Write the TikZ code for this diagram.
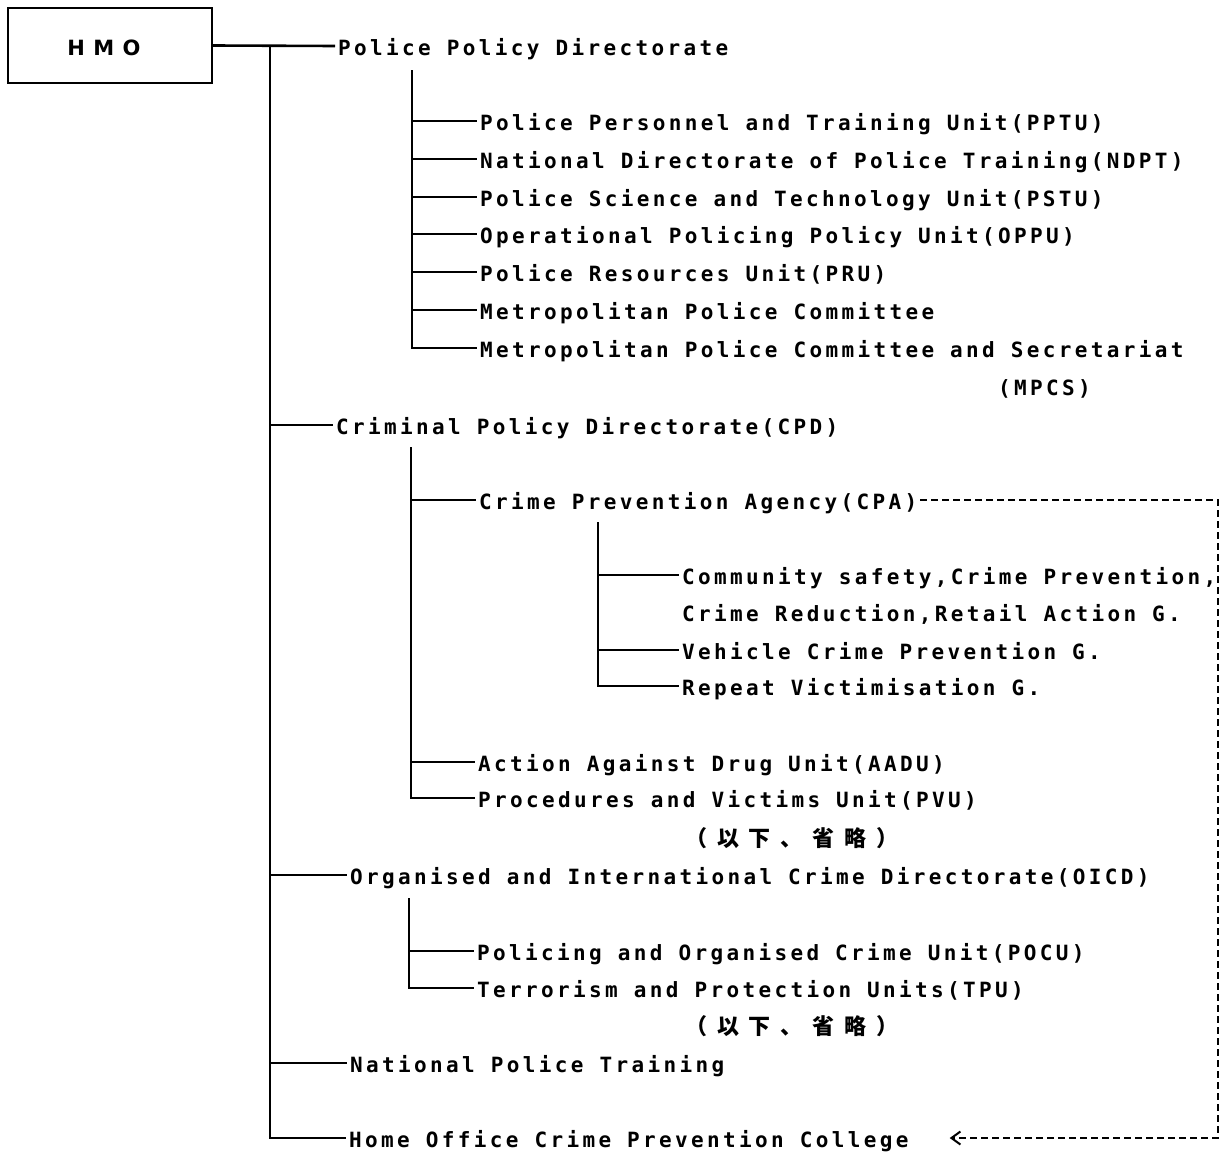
\documentclass[tikz,border=0pt]{standalone}
\usepackage{fontspec}
\usetikzlibrary{arrows.meta}
\newfontfamily\monof[LetterSpace=16.0]{DejaVu Sans Mono}
\newfontfamily\hmof[LetterSpace=40]{DejaVu Sans}
\newfontfamily\jpf[LetterSpace=45]{Noto Sans CJK JP}
\begin{document}
\begin{tikzpicture}[x=1pt,y=-1pt,
  conn/.style={line width=2.6pt},
  lbl/.style={anchor=west, inner xsep=3pt, inner ysep=0pt, text height=18pt, text depth=0pt,
    font=\monof\bfseries\fontsize{21}{25}\selectfont},
  jnote/.style={anchor=west, inner sep=0pt, text height=18pt, text depth=0pt,
    font=\jpf\bfseries\fontsize{22}{26}\selectfont},
  boxn/.style={draw, line width=2.4pt, minimum width=204pt, minimum height=75pt, inner sep=0pt},
  dashconn/.style={line width=2pt, dash pattern=on 7pt off 4pt, -{Straight Barb[length=9pt,width=13pt,line width=2pt]}}]
\useasboundingbox (0,0) rectangle (1220,1151);

% HMO box
\node[boxn] (hmo) at (110,45.5) {};
\node[font=\hmof\bfseries\fontsize{21}{25}\selectfont, inner sep=0pt] (hmot) at (104,48) {HMO};

% level 1
\node[lbl] (ppd)   at (335,46)   {Police Policy Directorate};
\node[lbl] (cpd)   at (333,425)  {Criminal Policy Directorate(CPD)};
\node[lbl] (oicd)  at (347,875)  {Organised and International Crime Directorate(OICD)};
\node[lbl] (npt)   at (347,1063) {National Police Training};
\node[lbl] (hocpc) at (346,1138) {Home Office Crime Prevention College};

% PPD children
\node[lbl] (pptu) at (477,121) {Police Personnel and Training Unit(PPTU)};
\node[lbl] (ndpt) at (477,159) {National Directorate of Police Training(NDPT)};
\node[lbl] (pstu) at (477,197) {Police Science and Technology Unit(PSTU)};
\node[lbl] (oppu) at (477,234) {Operational Policing Policy Unit(OPPU)};
\node[lbl] (pru)  at (477,272) {Police Resources Unit(PRU)};
\node[lbl] (mpc)  at (477,310) {Metropolitan Police Committee};
\node[lbl] (mpcs) at (477,348) {Metropolitan Police Committee and Secretariat};
\node[lbl] (mpcsb) at (995,386) {(MPCS)};

% CPD children
\node[lbl] (cpa)  at (476,500) {Crime Prevention Agency(CPA)};
\node[lbl] (csaf) at (679,575) {Community safety,Crime Prevention,};
\node[lbl] (cred) at (679,612) {Crime Reduction,Retail Action G.};
\node[lbl] (vcp)  at (679,650) {Vehicle Crime Prevention G.};
\node[lbl] (rvg)  at (679,686) {Repeat Victimisation G.};
\node[lbl] (aadu) at (475,762) {Action Against Drug Unit(AADU)};
\node[lbl] (pvu)  at (475,798) {Procedures and Victims Unit(PVU)};
\node[jnote] (om1) at (685,837) {（以下、省略）};

% OICD children
\node[lbl] (pocu) at (474,951) {Policing and Organised Crime Unit(POCU)};
\node[lbl] (tpu)  at (474,988) {Terrorism and Protection Units(TPU)};
\node[jnote] (om2) at (685,1025) {（以下、省略）};

% trunk
\draw[conn] (hmo.east) -- (ppd.west);
\coordinate (t0) at (270,46);
\draw[conn] (t0) |- (hocpc.west);
\foreach \n in {cpd,oicd,npt} \draw[conn] (t0 |- \n.west) -- (\n.west);

% PPD sub-trunk
\coordinate (s1) at (412,70);
\draw[conn] (s1) |- (mpcs.west);
\foreach \n in {pptu,ndpt,pstu,oppu,pru,mpc} \draw[conn] (s1 |- \n.west) -- (\n.west);

% CPD sub-trunk
\coordinate (s2) at (411,447);
\draw[conn] (s2) |- (pvu.west);
\foreach \n in {cpa,aadu} \draw[conn] (s2 |- \n.west) -- (\n.west);

% CPA sub-trunk
\coordinate (s3) at (598,522);
\draw[conn] (s3) |- (rvg.west);
\foreach \n in {csaf,vcp} \draw[conn] (s3 |- \n.west) -- (\n.west);

% OICD sub-trunk
\coordinate (s4) at (409,898);
\draw[conn] (s4) |- (tpu.west);
\draw[conn] (s4 |- pocu.west) -- (pocu.west);

% dashed link CPA -> HOCPC
\coordinate (dx) at (1218,0);
\draw[dashconn] (cpa.east) -- (cpa.east -| dx) -- (hocpc.east -| dx) -- ([xshift=38pt]hocpc.east);
\end{tikzpicture}
\end{document}
